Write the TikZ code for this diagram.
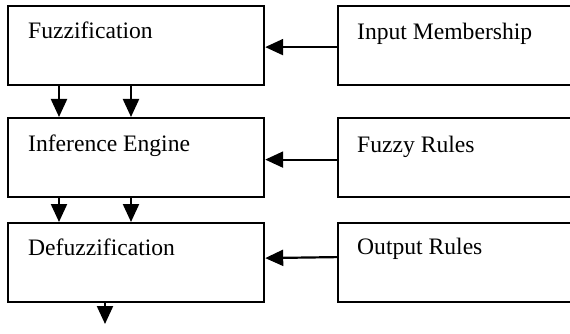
\documentclass[tikz,border=0pt]{standalone}
\usepackage{fontspec}
\setmainfont{Liberation Serif}
\usetikzlibrary{arrows.meta}
\begin{document}
\begin{tikzpicture}[x=1pt,y=-1pt,
  box/.style={draw,line width=2.2pt,rectangle,inner sep=0pt,anchor=north west,minimum height=79pt},
  lbox/.style={box,minimum width=256pt},
  rbox/.style={box,minimum width=250pt},
  lbl/.style={anchor=base west,inner sep=0pt,font=\fontsize{23.6}{28}\selectfont},
  arr/.style={line width=2.2pt,-{Triangle[length=18pt,width=16pt]}}]
\useasboundingbox (0,0) rectangle (570,334);
\clip (0,0) rectangle (570,334);
\node[lbox] (fuzz) at (7,5) {};
\node[lbox] (inf) at (7,117) {};
\node[lbox] (defz) at (7,222) {};
\node[rbox] (im) at (337,5) {};
\node[rbox] (fr) at (337,117) {};
\node[rbox] (orl) at (337,222) {};
\node[lbl] (t1) at (28,39) {Fuzzification};
\node[lbl] (t2) at (28,151) {Inference Engine};
\node[lbl] (t3) at (28,255) {Defuzzification};
\node[lbl] (t4) at (357,40) {Input Membership};
\node[lbl] (t5) at (357,152) {Fuzzy Rules};
\node[lbl] (t6) at (357,254) {Output Rules};
\coordinate (out) at (105,324);
\draw[arr] ([yshift=-1.5pt]im.west) -- ([yshift=-1.5pt]fuzz.east |- im.west);
\draw[arr] ([yshift=-2pt]fr.west) -- ([yshift=-2pt]inf.east |- fr.west);
\draw[arr] ([yshift=5.5pt]orl.west) -- ([yshift=4.5pt]defz.east |- orl.west);
\draw[arr] ([xshift=52pt]fuzz.south west) -- ([xshift=52pt]inf.north west);
\draw[arr] ([xshift=124pt]fuzz.south west) -- ([xshift=124pt]inf.north west);
\draw[arr] ([xshift=52pt]inf.south west) -- ([xshift=52pt]defz.north west);
\draw[arr] ([xshift=124pt]inf.south west) -- ([xshift=124pt]defz.north west);
\draw[arr] (defz.south west -| out) -- (out);
\end{tikzpicture}
\end{document}
